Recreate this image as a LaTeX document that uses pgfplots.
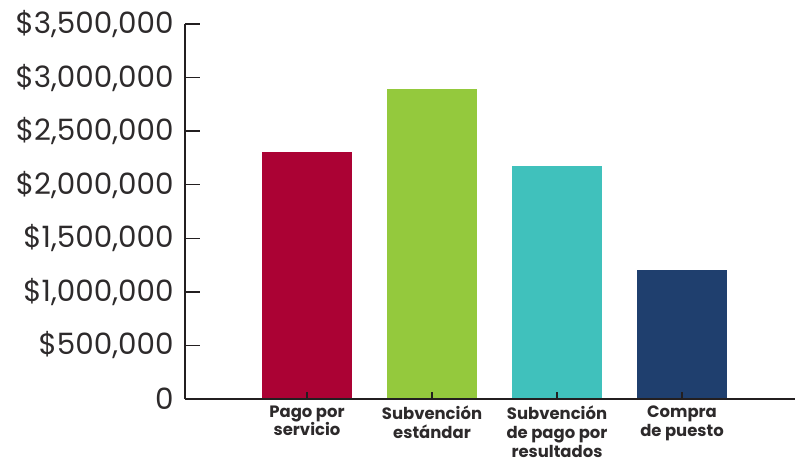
\documentclass[border=0pt]{standalone}
\usepackage{fontspec}
\setmainfont{Poppins}
\usepackage{pgfplots}
\pgfplotsset{compat=1.18}

\definecolor{axisgray}{RGB}{35,31,32}
\definecolor{textgray}{RGB}{45,42,43}
\definecolor{barred}{RGB}{171,2,52}
\definecolor{bargreen}{RGB}{148,201,61}
\definecolor{barteal}{RGB}{64,193,188}
\definecolor{barnavy}{RGB}{31,63,110}

\begin{document}
\begin{tikzpicture}
\useasboundingbox (-185bp,-63bp) rectangle (613bp,399bp);
\begin{axis}[
scale only axis,
width=610bp, height=375bp,
anchor=south west, at={(0,0)},
axis x line=bottom, axis y line=left,
axis line style={axisgray, line width=1.5pt, -},
tick align=inside,
major tick length=7bp,
tick style={axisgray, line width=1.5pt},
xmin=-0.976, xmax=3.904,
ymin=0, ymax=3500000,
xtick={0,1,2,3},
xticklabels={Pago por\\servicio, Subvención\\estándar, Subvención\\de pago por\\resultados, Compra\\de puesto},
x tick label style={align=center, font=\fontsize{16.5}{19}\selectfont\bfseries, text=textgray, yshift=-3bp},
ytick=\empty,
extra y ticks={0,500000,1000000,1500000,2000000,2500000,3000000,3500000},
extra y tick labels={0, {\$500,000}, {\$1,000,000}, {\$1,500,000}, {\$2,000,000}, {\$2,500,000}, {\$3,000,000}, {\$3,500,000}},
extra y tick style={major tick length=15bp,
  tick label style={font=\fontsize{29.5}{32}\selectfont, text=textgray, xshift=-8bp}},
scaled y ticks=false,
axis on top,
clip=false,
]
\addplot [ybar, bar width=90bp, bar shift=0pt, fill=barred, draw=none] coordinates {(0,2305000)};
\addplot [ybar, bar width=90bp, bar shift=0pt, fill=bargreen, draw=none] coordinates {(1,2893000)};
\addplot [ybar, bar width=90bp, bar shift=0pt, fill=barteal, draw=none] coordinates {(2,2175000)};
\addplot [ybar, bar width=90bp, bar shift=0pt, fill=barnavy, draw=none] coordinates {(3,1204000)};
\coordinate (t0) at (axis cs:0,0);
\coordinate (t1) at (axis cs:1,0);
\coordinate (t2) at (axis cs:2,0);
\coordinate (t3) at (axis cs:3,0);
\end{axis}
% x tick marks drawn over the bars
\foreach \t in {t0,t1,t2,t3}
  \draw[axisgray, line width=1.5pt] (\t) -- ++(0,7bp);
\end{tikzpicture}
\end{document}
